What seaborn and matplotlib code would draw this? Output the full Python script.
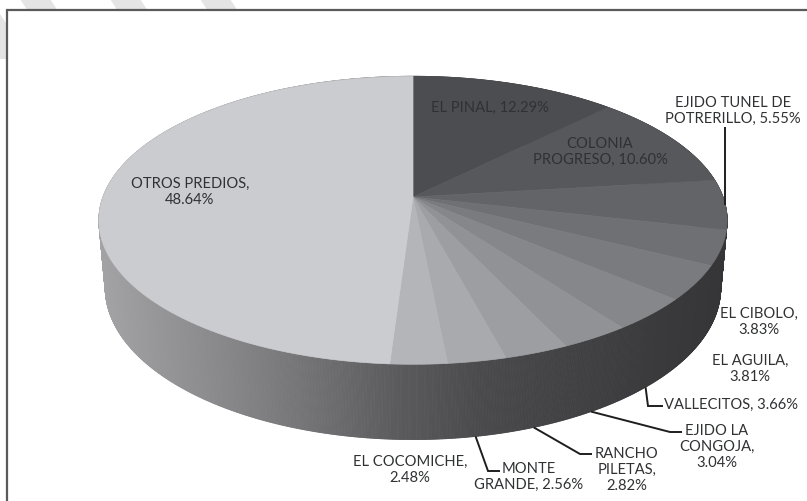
import numpy as np
import matplotlib
matplotlib.use("Agg")
import matplotlib.pyplot as plt
from matplotlib.collections import PolyCollection
import seaborn as sns

# ---- data -------------------------------------------------------------
categories = ["EL PINAL", "COLONIA PROGRESO", "EJIDO TUNEL DE POTRERILLO",
              "EL CIBOLO", "EL AGUILA", "VALLECITOS", "EJIDO LA CONGOJA",
              "RANCHO PILETAS", "MONTE GRANDE", "EL COCOMICHE", "OTROS PREDIOS"]
shares = [12.29, 10.60, 5.55, 3.83, 3.81, 3.66, 3.04, 2.82, 2.56, 2.48, 48.64]
label_formats = ["EL PINAL, {}%", "COLONIA\nPROGRESO, {}%",
                 "EJIDO TUNEL DE\nPOTRERILLO, {}%", "EL CIBOLO,\n{}%",
                 "EL AGUILA,\n{}%", "VALLECITOS, {}%", "EJIDO LA\nCONGOJA,\n{}%",
                 "RANCHO\nPILETAS,\n{}%", "MONTE\nGRANDE, {}%",
                 "EL COCOMICHE,\n{}%", "OTROS PREDIOS,\n{}%"]

# ---- style ------------------------------------------------------------
sns.set_theme(style="white")
plt.rcParams["font.family"] = ["Lato", "DejaVu Sans"]
slice_colors = sns.blend_palette(["#4c4d50", "#b4b5b8"], n_colors=10) + ["#cbcccf"]
text_color = "#303133"

W, H = 807, 502
fig = plt.figure(figsize=(W / 100, H / 100), dpi=100)
ax = fig.add_axes([0, 0, 1, 1])
ax.set_xlim(0, W)
ax.set_ylim(H, 0)
ax.axis("off")

# ---- perspective camera for the tilted disc ---------------------------
cx, cy, k = 413.0, 198.0, 310.0
elev = np.deg2rad(26.9)
dist = 5.52
thick = 0.246


def project(X, Y, Z):
    v = Y * np.sin(elev) + Z * np.cos(elev)
    w = Y * np.cos(elev) - Z * np.sin(elev)
    f = 1.0 / (1.0 + w / dist)
    return cx + k * X * f, cy - k * v * f


def rim(theta, Z):
    # theta measured clockwise from the back (top of the picture)
    return project(np.sin(theta), np.cos(theta), Z)


vals = np.asarray(shares, dtype=float)
bounds = np.concatenate([[0.0], np.cumsum(vals) / vals.sum()]) * 2 * np.pi
mids = 0.5 * (bounds[:-1] + bounds[1:])

# ---- side wall, shaded left (lit) to right (shadow) -------------------
th = np.linspace(0, 2 * np.pi, 1441)
tx, ty = rim(th, 0.0)
bx, by = rim(th, -thick)
depth = np.cos(0.5 * (th[:-1] + th[1:]))
order = np.argsort(-depth)
grad_x = [100, 200, 300, 400, 480, 560, 650, 730]
grad_g = [163, 141, 117, 90, 74, 66, 59, 53]
quads, cols = [], []
for i in order:
    quads.append([(tx[i], ty[i]), (tx[i + 1], ty[i + 1]),
                  (bx[i + 1], by[i + 1]), (bx[i], by[i])])
    g = np.interp(0.5 * (tx[i] + tx[i + 1]), grad_x, grad_g) / 255.0
    cols.append((g, g, g * 1.0 + 0.012))
ax.add_collection(PolyCollection(quads, facecolors=cols, edgecolors=cols,
                                 linewidths=0.6, antialiased=True))

# ---- top faces --------------------------------------------------------
apex = project(0.0, 0.0, 0.0)
for t0, t1, col in zip(bounds[:-1], bounds[1:], slice_colors):
    tt = np.linspace(t0, t1, max(4, int((t1 - t0) * 200)))
    px, py = rim(tt, 0.0)
    poly = [apex] + list(zip(px, py))
    ax.add_patch(plt.Polygon(poly, closed=True, facecolor=col,
                             edgecolor=col, linewidth=0.5))

# ---- labels -----------------------------------------------------------
label_pos = [(490, 108), (600, 152), (733, 111), (759, 322), (750, 369),
             (731, 405), (717, 447), (627, 470), (529, 477), (410, 470),
             (190, 192)]
for fmt, v, (lx, ly) in zip(label_formats, shares, label_pos):
    ax.text(lx, ly, fmt.format(f"{v:.2f}"), ha="center", va="center",
            multialignment="center", fontsize=10.6, color=text_color,
            linespacing=1.2)

# ---- leader lines from the slice rim to the labels --------------------
leader_paths = {
    2: [(None, 128)],
    5: [(648, 407), (663, 407)],
    6: [(670, 433), (682, 433)],
    7: [(580, 455), (592, 455)],
    8: [(488, 472), (500, 472)],
}
for idx, pts in leader_paths.items():
    z = 0.0 if idx == 2 else -thick
    ax_, ay_ = rim(mids[idx], z)
    xs, ys = [ax_], [ay_]
    for px, py in pts:
        xs.append(ax_ if px is None else px)
        ys.append(py)
    ax.plot(xs, ys, color="#1e1e1e", lw=1.4, solid_capstyle="butt",
            solid_joinstyle="miter")

# ---- faint background stripes and frame -------------------------------
for x0 in [-40, 20, 110, 200]:
    ax.add_patch(plt.Polygon([(x0, 0), (x0 + 30, 0), (x0 + 70, 60), (x0 + 40, 60)],
                             closed=True, facecolor="#e4e4e4", edgecolor="none",
                             zorder=0))
ax.add_patch(plt.Rectangle((6.5, 10.5), W, H, facecolor="white",
                           edgecolor="#5a5a5a", linewidth=1.6, zorder=0.5))

fig.savefig("out.png", dpi=100)
